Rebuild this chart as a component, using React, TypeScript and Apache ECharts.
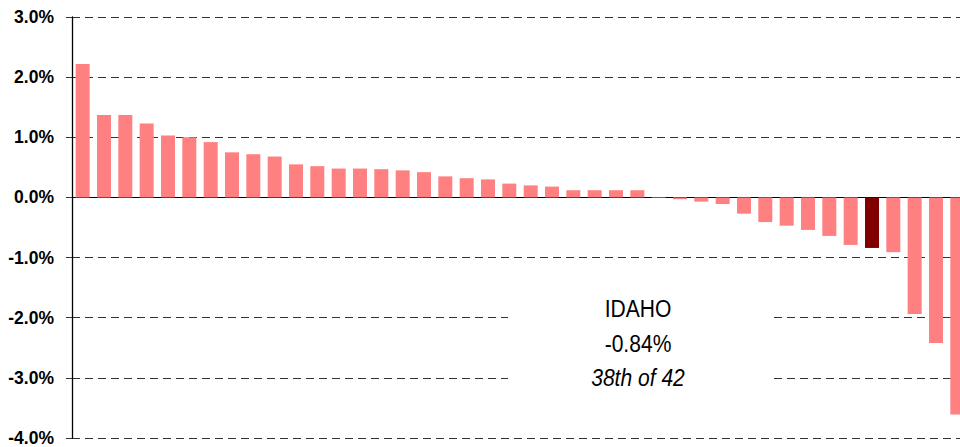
import React, { useEffect, useRef } from "react";
import * as echarts from "echarts";

const ranks = [
  "1", "2", "3", "4", "5", "6", "7", "8", "9", "10", "11", "12", "13", "14",
  "15", "16", "17", "18", "19", "20", "21", "22", "23", "24", "25", "26", "27", "28",
  "29", "30", "31", "32", "33", "34", "35", "36", "37", "38", "39", "40", "41", "42",
];

const changes = [
  2.22, 1.37, 1.37, 1.23, 1.03, 1.0, 0.92, 0.75, 0.72, 0.68, 0.55, 0.52, 0.48, 0.48,
  0.47, 0.45, 0.42, 0.35, 0.32, 0.3, 0.23, 0.2, 0.18, 0.12, 0.12, 0.12, 0.12, -0.01,
  -0.03, -0.07, -0.11, -0.27, -0.41, -0.47, -0.54, -0.64, -0.79, -0.84, -0.91, -1.94, -2.42, -3.61,
];

const highlightRank = "38";
const annotationLines = ["IDAHO", "-0.84%", "38th of 42"];

const yTicks = { min: -4, max: 3, interval: 1 };

export default function App() {
  const ref = useRef<HTMLDivElement>(null);

  useEffect(() => {
    if (!ref.current) return;
    const chart = echarts.init(ref.current, undefined, { renderer: "svg" });
    const font = "'Liberation Sans', Arial, sans-serif";
    const textEl = (text: string, y: number, italic: boolean) => ({
      type: "text",
      x: 638,
      y,
      scaleX: 0.86,
      style: {
        text,
        fontSize: 24.5,
        fontStyle: italic ? "italic" : "normal",
        fontFamily: font,
        fill: "#000",
        align: "center",
        verticalAlign: "middle",
      },
      z: 11,
    });
    chart.setOption({
      animation: false,
      backgroundColor: "#ffffff",
      grid: { left: 72, right: 0, top: 17, bottom: 8, containLabel: false },
      xAxis: {
        type: "category",
        data: ranks,
        axisLine: { onZero: true, lineStyle: { color: "#000", width: 1 } },
        axisTick: { show: false },
        axisLabel: { show: false },
        splitLine: { show: false },
      },
      yAxis: {
        type: "value",
        min: yTicks.min,
        max: yTicks.max,
        interval: yTicks.interval,
        axisLine: { show: true, lineStyle: { color: "#000", width: 1.3 } },
        axisTick: { show: true, length: 6, lineStyle: { color: "#333" } },
        axisLabel: {
          margin: 18,
          fontSize: 17.5,
          fontWeight: "bold",
          fontFamily: font,
          color: "#000",
          formatter: (v: number) => v.toFixed(1) + "%",
        },
        splitLine: {
          show: true,
          lineStyle: { color: "#333", type: [8, 5], width: 1.2 },
        },
      },
      series: [
        {
          type: "bar",
          barWidth: 14,
          data: changes.map((v, i) => ({
            value: v,
            itemStyle: { color: ranks[i] === highlightRank ? "#800000" : "#FF8080" },
          })),
          z: 3,
        },
      ],
      graphic: [
        {
          type: "rect",
          shape: { x: 508, y: 288, width: 261, height: 106 },
          style: { fill: "#fff" },
          z: 10,
        },
        textEl(annotationLines[0], 308, false),
        textEl(annotationLines[1], 343, false),
        textEl(annotationLines[2], 377, true),
      ],
    });
    return () => chart.dispose();
  }, []);

  return (
    <div
      style={{ position: "fixed", left: 0, top: 0, width: 960, height: 447, overflow: "hidden" }}
    >
      <div ref={ref} style={{ width: 968, height: 447 }} />
    </div>
  );
}
